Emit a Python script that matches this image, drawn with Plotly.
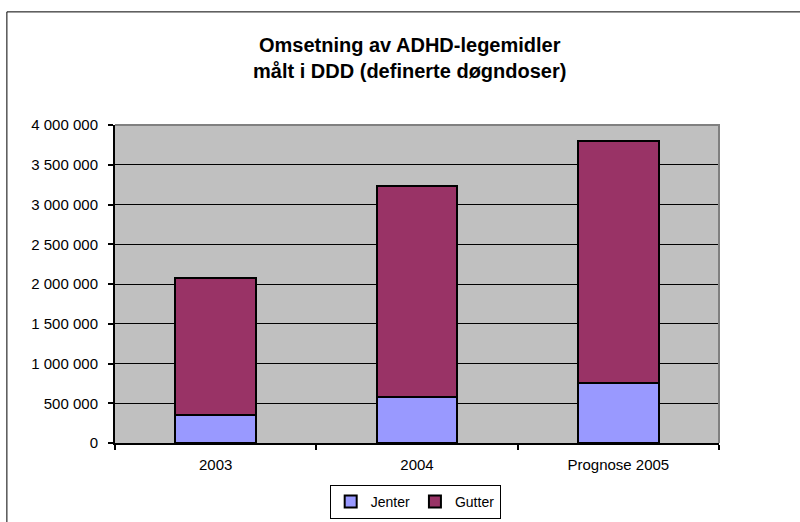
import plotly.graph_objects as go

categories = ["2003", "2004", "Prognose 2005"]
jenter = [350000, 580000, 755000]
gutter = [1725000, 2657000, 3050000]
y_tickvals = [0, 500000, 1000000, 1500000, 2000000, 2500000, 3000000, 3500000, 4000000]
y_ticktext = ["0", "500 000", "1 000 000", "1 500 000", "2 000 000", "2 500 000",
              "3 000 000", "3 500 000", "4 000 000"]

FONT = "Liberation Sans, Arial, sans-serif"

fig = go.Figure()
fig.add_trace(go.Bar(name="Jenter", x=categories, y=jenter,
                     marker=dict(color="#9999FF", line=dict(color="black", width=2))))
fig.add_trace(go.Bar(name="Gutter", x=categories, y=gutter,
                     marker=dict(color="#993366", line=dict(color="black", width=2))))

fig.update_layout(
    barmode="stack",
    bargap=0.6,
    width=800, height=522,
    margin=dict(l=115, r=81, t=125, b=79, autoexpand=False),
    paper_bgcolor="white",
    plot_bgcolor="#C0C0C0",
    font=dict(family=FONT, size=15, color="black"),
    title=dict(text="<b>Omsetning av ADHD-legemidler<br>målt i DDD (definerte døgndoser)</b>",
               x=0.488, xref="paper", xanchor="center",
               y=1 - 52 / 522, yref="container", yanchor="middle",
               font=dict(family=FONT, size=20, color="black")),
    showlegend=True,
    legend=dict(orientation="h", x=0.497, xanchor="center",
                y=3 / 522, yref="container", yanchor="bottom",
                bgcolor="white", bordercolor="black", borderwidth=1,
                font=dict(family=FONT, size=14), traceorder="normal",
                itemwidth=30, tracegroupgap=0),
    xaxis=dict(showline=True, linecolor="black", linewidth=2,
               ticks="outside", ticklen=5, tickwidth=2, tickcolor="black",
               tickson="boundaries", showgrid=False, ticklabelstandoff=7,
               tickfont=dict(family=FONT, size=15)),
    yaxis=dict(range=[0, 4000000], tickvals=y_tickvals, ticktext=y_ticktext,
               showline=True, linecolor="black", linewidth=2,
               ticks="outside", ticklen=5, tickwidth=2, tickcolor="black",
               showgrid=True, gridcolor="black", gridwidth=1, zeroline=False,
               ticklabelstandoff=7,
               tickfont=dict(family=FONT, size=15)),
    shapes=[
        dict(type="path", xref="paper", yref="paper",
             path="M 0 1 L 1 1 L 1 0", line=dict(color="#808080", width=2)),
        dict(type="rect", xref="paper", yref="paper",
             x0=-0.179, x1=1.3, y0=-0.5, y1=1.3557,
             line=dict(color="black", width=1), layer="above"),
    ],
)

fig.write_html("out.html", config={"displayModeBar": False},
               post_script="document.body.style.margin='0';document.body.style.overflow='hidden';")
